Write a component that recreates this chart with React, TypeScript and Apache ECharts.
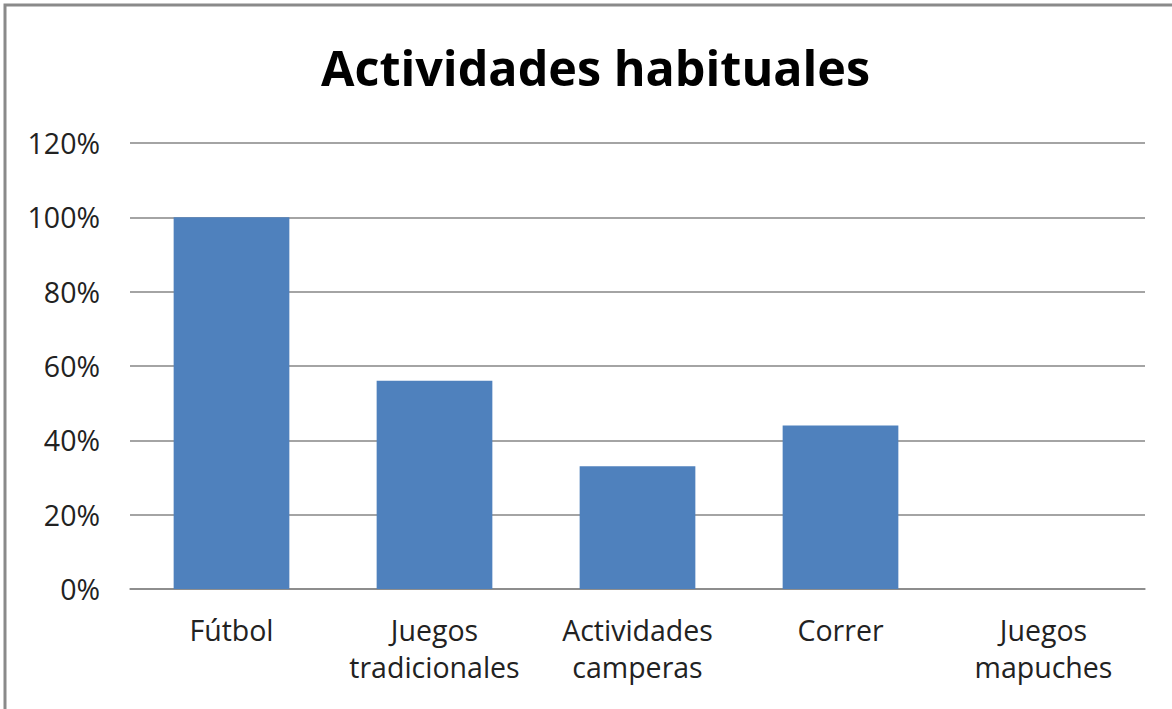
import React, { useEffect, useRef } from "react";
import * as echarts from "echarts";

const categories = ["Fútbol", "Juegos\ntradicionales", "Actividades\ncamperas", "Correr", "Juegos\nmapuches"];
const values = [100, 56, 33, 44, 0];
const yTicks = [0, 20, 40, 60, 80, 100, 120];
const title = "Actividades habituales";

const FONT = "Open Sans";

export default function App() {
  const ref = useRef<HTMLDivElement>(null);
  useEffect(() => {
    document.body.style.margin = "0";
    const chart = echarts.init(ref.current!, null, { renderer: "svg" });
    chart.setOption({
      animation: false,
      backgroundColor: "#ffffff",
      title: {
        text: title,
        left: 316,
        top: 37,
        textStyle: { fontFamily: FONT, fontSize: 48.5, fontWeight: "bold", color: "#000" },
      },
      graphic: [
        {
          type: "rect",
          shape: { x: 5, y: 5, width: 1200, height: 740 },
          style: { fill: "none", stroke: "#8a8a8a", lineWidth: 3 },
          silent: true,
        },
      ],
      grid: { left: 130, right: 27, top: 143, bottom: 120 },
      xAxis: {
        type: "category",
        data: categories,
        axisLine: { show: true, lineStyle: { color: "#868686", width: 1.5 } },
        axisTick: { show: false },
        axisLabel: {
          fontFamily: FONT,
          fontSize: 28.5,
          color: "#222",
          margin: 22,
          lineHeight: 37,
          interval: 0,
        },
      },
      yAxis: {
        type: "value",
        min: 0,
        max: 120,
        interval: 20,
        axisLine: { show: false },
        axisTick: { show: false },
        splitLine: { lineStyle: { color: "#868686", width: 1.5 } },
        axisLabel: {
          fontFamily: FONT,
          fontSize: 28.5,
          color: "#222",
          margin: 30,
          formatter: (v: number) => (yTicks.includes(v) ? v + "%" : ""),
        },
      },
      series: [
        {
          type: "bar",
          data: values,
          barCategoryGap: "43%",
          itemStyle: { color: "#4f81bd" },
        },
      ],
    });
    return () => chart.dispose();
  }, []);
  return <div ref={ref} style={{ position: "absolute", left: 0, top: 0, width: 1172, height: 709 }} />;
}
